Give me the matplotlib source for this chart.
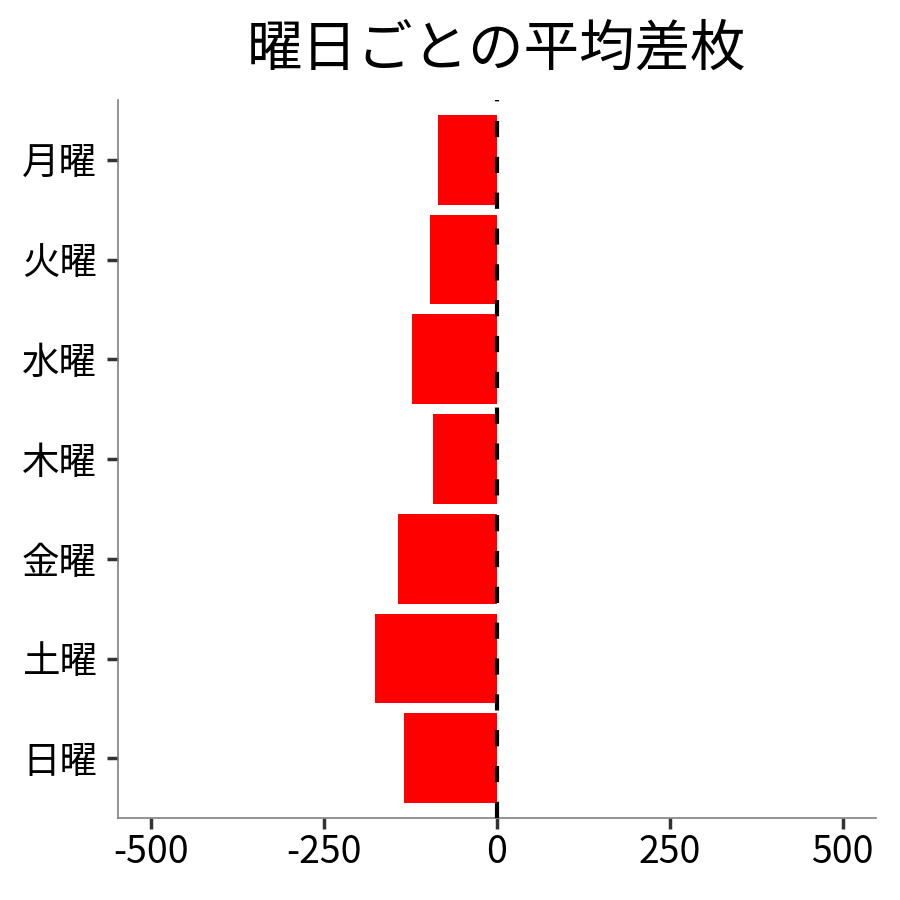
import matplotlib
matplotlib.use('Agg')
import matplotlib.pyplot as plt

plt.rcParams['font.family'] = ['Noto Sans CJK JP', 'DejaVu Sans']

days = ['月曜', '火曜', '水曜', '木曜', '金曜', '土曜', '日曜']
avg_diff = [-85, -97, -123, -92, -143, -176, -134]
x_ticks = [-500, -250, 0, 250, 500]


def main():
    fig = plt.figure(figsize=(9, 9), dpi=100)
    ax = fig.add_axes([0.131, 0.091, 0.842, 0.798])

    pos = list(range(len(days)))
    ax.barh(pos, avg_diff, height=0.9, color='#ff0000', zorder=2)
    ax.axvline(0, color='black', lw=3, linestyle=(0, (3.9, 4.7)), zorder=3)

    ax.set_yticks(pos)
    ax.set_yticklabels(days)
    ax.set_xticks(x_ticks)
    ax.set_xticklabels([str(v) for v in x_ticks])
    ax.set_xlim(-548, 548)
    ax.set_ylim(len(days) - 0.4, -0.6)

    for side in ['top', 'right']:
        ax.spines[side].set_visible(False)
    for side in ['left', 'bottom']:
        ax.spines[side].set_color('#808080')
        ax.spines[side].set_linewidth(1.2)

    ax.tick_params(axis='both', length=8, width=2.5, color='#333333',
                   labelsize=27, labelcolor='black')
    ax.tick_params(axis='y', pad=7)
    ax.tick_params(axis='x', pad=3)

    ax.set_title('曜日ごとの平均差枚', fontsize=40, pad=25)

    fig.savefig('out.png', dpi=100)


if __name__ == '__main__':
    main()
